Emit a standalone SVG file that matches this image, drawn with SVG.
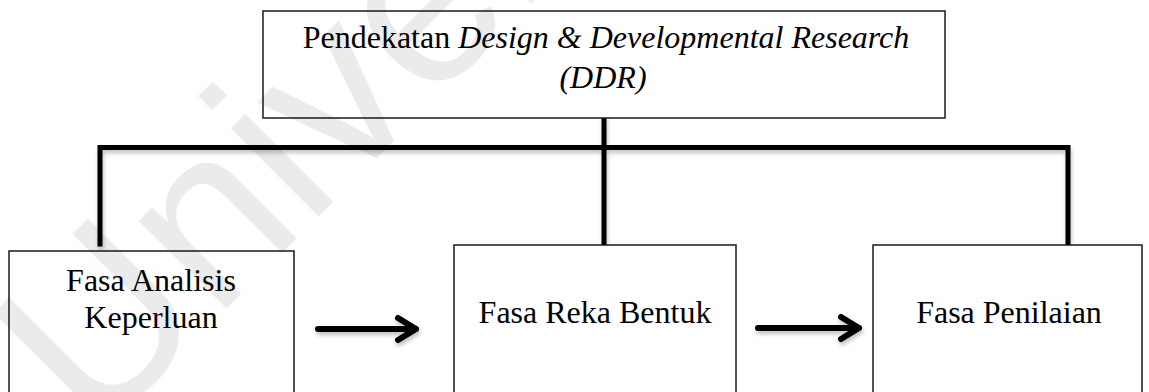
<svg xmlns="http://www.w3.org/2000/svg" width="1149" height="392" viewBox="0 0 1149 392">
  <style>
    .box { fill: #ffffff; stroke: #1a1a1a; stroke-width: 1.5; }
    .lbl { font-family: "Liberation Serif", "Times New Roman", serif; font-size: 32px; fill: #000000; }
    .it { font-style: italic; }
    .wire { fill: none; stroke: #000000; stroke-width: 5; stroke-linecap: square; }
    .arr { fill: none; stroke: #000000; stroke-width: 6; stroke-linecap: round; stroke-linejoin: round; }
    .wm { font-family: "Liberation Sans", Arial, sans-serif; font-size: 235px; fill: #000000; fill-opacity: 0.08; }
  </style>
  <defs>
    <filter id="sh" x="-10%" y="-10%" width="120%" height="140%">
      <feDropShadow dx="1" dy="3" stdDeviation="2" flood-color="#000000" flood-opacity="0.25"/>
    </filter>
  </defs>
  <rect x="0" y="0" width="1149" height="392" fill="#ffffff"/>

  <g id="connectors" filter="url(#sh)">
    <path class="wire" d="M604,118 L604,245"/>
    <path class="wire" d="M100,244 L100,147.5 L1068,147.5 L1068,245"/>
    <path class="arr" d="M318,329 L416,329 M398,318 L416,329 L398,340"/>
    <path class="arr" d="M758,328 L859,328 M841,317 L859,328 L841,339"/>
  </g>

  <g id="node-ddr">
    <rect class="box" x="263" y="11" width="682" height="107"/>
    <text class="lbl" x="606" y="48" text-anchor="middle">Pendekatan <tspan class="it">Design &amp; Developmental Research</tspan></text>
    <text class="lbl it" x="603" y="88" text-anchor="middle">(DDR)</text>
  </g>

  <g id="node-analisis">
    <rect class="box" x="9" y="251" width="285" height="150"/>
    <text class="lbl" x="151" y="291" text-anchor="middle">Fasa Analisis</text>
    <text class="lbl" x="151" y="328" text-anchor="middle">Keperluan</text>
  </g>

  <g id="node-rekabentuk">
    <rect class="box" x="454" y="245" width="282" height="160"/>
    <text class="lbl" x="595" y="323" text-anchor="middle">Fasa Reka Bentuk</text>
  </g>

  <g id="node-penilaian">
    <rect class="box" x="873" y="245" width="269" height="160"/>
    <text class="lbl" x="1009" y="323" text-anchor="middle">Fasa Penilaian</text>
  </g>

  <text class="wm" x="95" y="440" transform="rotate(-45 95 440)">Universiti</text>
</svg>
